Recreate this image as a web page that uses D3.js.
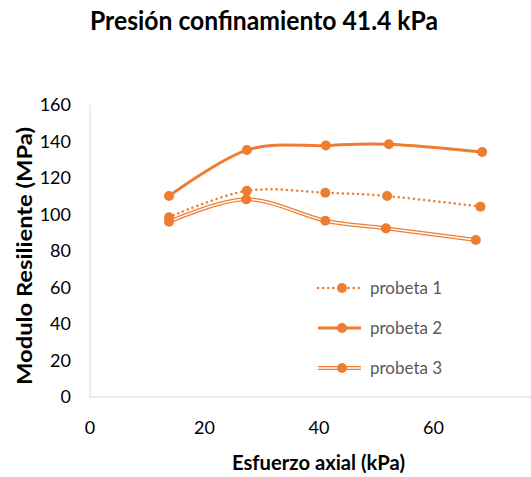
<!DOCTYPE html>
<html>
<head>
<meta charset="utf-8">
<script src="https://cdn.jsdelivr.net/npm/d3@7"></script>
<style>
  body { margin: 0; background: #fff; }
  text { font-family: "Lato", "Noto Sans", sans-serif; }
</style>
</head>
<body>
<script>
// datos
const seriesNames = ["probeta 1", "probeta 2", "probeta 3"]
const esfuerzo1 = [13.8, 27.4, 41.1, 51.9, 68.2]
const modulo1 = [98.5, 113.0, 111.9, 110.1, 104.3]
const esfuerzo2 = [13.8, 27.4, 41.2, 52.2, 68.5]
const modulo2 = [110.1, 135.3, 137.8, 138.5, 134.2]
const esfuerzo3 = [13.8, 27.3, 41.1, 51.7, 67.4]
const modulo3 = [96.0, 108.3, 96.6, 92.4, 86.0]
const xTicks = [0, 20, 40, 60]
const yTicks = [0, 20, 40, 60, 80, 100, 120, 140, 160]

const width = 531, height = 477
const color = "#ED7D31"

const svg = d3.select("body").append("svg")
    .attr("width", width)
    .attr("height", height)

const x = d3.scaleLinear().domain([0, 80]).range([90, 548])
const y = d3.scaleLinear().domain([0, 160]).range([397, 105])

const series = [
    { name: seriesNames[0], xs: esfuerzo1, ys: modulo1 },
    { name: seriesNames[1], xs: esfuerzo2, ys: modulo2 },
    { name: seriesNames[2], xs: esfuerzo3, ys: modulo3 }
]
series.forEach(s => { s.pts = s.xs.map((v, i) => [v, s.ys[i]]) })

// titulo
svg.append("text")
    .attr("x", 90).attr("y", 30)
    .attr("font-size", 26).attr("font-weight", "bold")
    .attr("fill", "#000")
    .attr("textLength", 348).attr("lengthAdjust", "spacingAndGlyphs")
    .text("Presión confinamiento 41.4 kPa")

// ejes
svg.append("line")
    .attr("x1", x(0)).attr("x2", width)
    .attr("y1", y(0)).attr("y2", y(0))
    .attr("stroke", "#d9d9d9").attr("stroke-width", 1)
svg.append("line")
    .attr("x1", x(0)).attr("x2", x(0))
    .attr("y1", y(0)).attr("y2", y(160))
    .attr("stroke", "#d9d9d9").attr("stroke-width", 1)

svg.append("g").selectAll("text")
    .data(yTicks).enter().append("text")
    .attr("x", 71).attr("y", d => y(d))
    .attr("dy", "0.35em")
    .attr("text-anchor", "end")
    .attr("font-size", 18).attr("fill", "#000")
    .text(d => d)

svg.append("g").selectAll("text")
    .data(xTicks).enter().append("text")
    .attr("x", d => x(d)).attr("y", 428)
    .attr("dy", "0.35em")
    .attr("text-anchor", "middle")
    .attr("font-size", 18).attr("fill", "#000")
    .text(d => d)

svg.append("text")
    .attr("x", 232).attr("y", 470)
    .attr("font-size", 20.5).attr("font-weight", "bold")
    .attr("textLength", 173).attr("lengthAdjust", "spacingAndGlyphs")
    .text("Esfuerzo axial (kPa)")

svg.append("text")
    .attr("transform", "translate(32,385) rotate(-90)")
    .attr("font-size", 20.5).attr("font-weight", "bold")
    .attr("textLength", 258).attr("lengthAdjust", "spacingAndGlyphs")
    .text("Modulo Resiliente (MPa)")

// lineas
const line = d3.line()
    .x(d => x(d[0]))
    .y(d => y(d[1]))
    .curve(d3.curveCatmullRom.alpha(0))

const g = svg.append("g")

function drawStroke(sel, i, pathD) {
    if (i === 0) {
        sel.append("path").attr("d", pathD).attr("fill", "none")
            .attr("stroke", color).attr("stroke-width", 2.5)
            .attr("stroke-linecap", "round")
            .attr("stroke-dasharray", "0.1 5")
    } else if (i === 1) {
        sel.append("path").attr("d", pathD).attr("fill", "none")
            .attr("stroke", color).attr("stroke-width", 3)
    } else {
        sel.append("path").attr("d", pathD).attr("fill", "none")
            .attr("stroke", color).attr("stroke-width", 4)
        sel.append("path").attr("d", pathD).attr("fill", "none")
            .attr("stroke", "#fff").attr("stroke-width", 1.5)
    }
}

series.forEach((s, i) => {
    drawStroke(g, i, line(s.pts))
})
series.forEach((s, i) => {
    g.append("g").selectAll("circle")
        .data(s.pts).enter().append("circle")
        .attr("cx", d => x(d[0])).attr("cy", d => y(d[1]))
        .attr("r", 5).attr("fill", color)
})

// leyenda
const legY = [288, 328, 368]
series.forEach((s, i) => {
    const lg = svg.append("g")
    drawStroke(lg, i, `M318,${legY[i]}L361,${legY[i]}`)
    lg.append("circle").attr("cx", 342).attr("cy", legY[i]).attr("r", 5).attr("fill", color)
    lg.append("text")
        .attr("x", 370).attr("y", legY[i]).attr("dy", "0.35em")
        .attr("font-size", 17).attr("fill", "#595959")
        .text(s.name)
})
</script>
</body>
</html>
